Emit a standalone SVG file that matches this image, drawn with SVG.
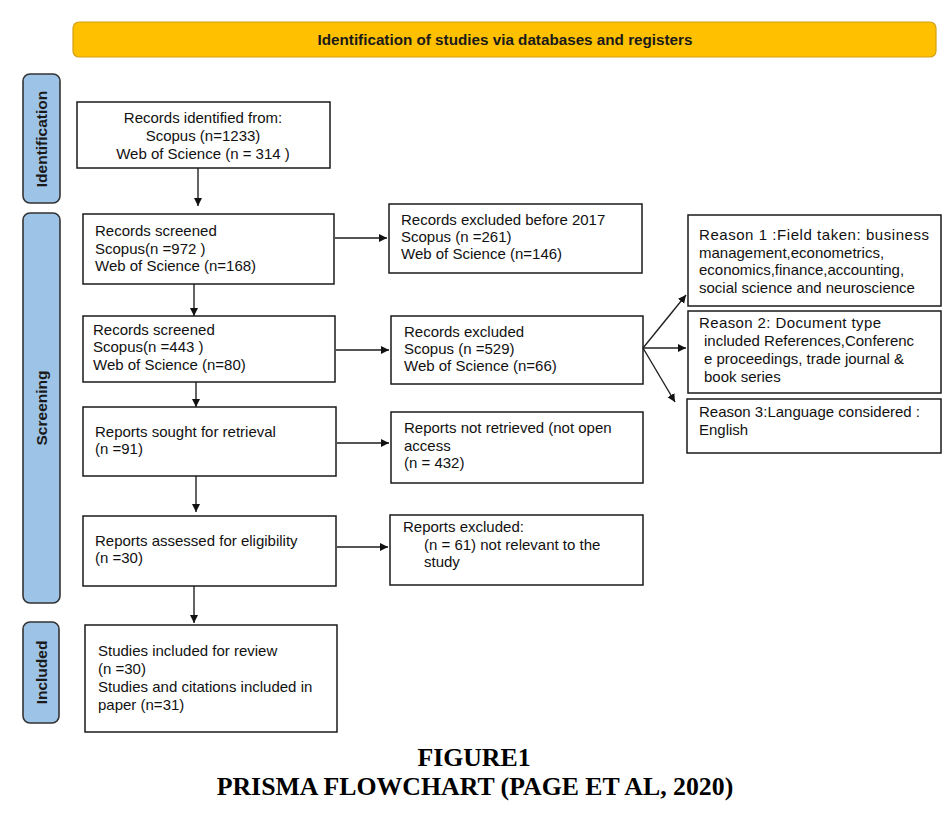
<svg xmlns="http://www.w3.org/2000/svg" width="948" height="817" viewBox="0 0 948 817">
<style>
.box{fill:#fff;stroke:#1a1a1a;stroke-width:1.5}
.side{fill:#9dc3e6;stroke:#333;stroke-width:1.6}
.t{font-family:"Liberation Sans",Arial,sans-serif;font-size:15px;fill:#111}
.r{font-family:"Liberation Sans",Arial,sans-serif;font-size:15px;fill:#111}
.st{font-family:"Liberation Sans",Arial,sans-serif;font-size:15.5px;font-weight:bold;fill:#1a1a1a}
.bn{font-family:"Liberation Sans",Arial,sans-serif;font-size:15px;font-weight:bold;fill:#1a1a1a}
.cap{font-family:"Liberation Serif","Times New Roman",serif;font-size:25.8px;font-weight:bold;fill:#000}
.c{stroke:#222;stroke-width:1.4;fill:none;marker-end:url(#ah)}
.h{stroke:#555;stroke-width:2;fill:none;marker-end:url(#ah)}
</style>
<defs>
<marker id="ah" markerWidth="10" markerHeight="10" refX="8" refY="4" orient="auto" markerUnits="userSpaceOnUse"><path d="M0,0 L8,4 L0,8 Z" fill="#111"/></marker>
</defs>
<rect width="948" height="817" fill="#fff"/>

<g id="banner">
<rect x="73" y="22" width="863" height="35" rx="6" fill="#ffc000" stroke="#d4a017" stroke-width="1.2"/>
<text x="505" y="44.5" text-anchor="middle" class="bn" textLength="375" lengthAdjust="spacingAndGlyphs">Identification of studies via databases and registers</text>
</g>

<g id="stage-identification">
<rect class="side" x="23" y="74" width="37" height="129" rx="7"/>
<text class="st" transform="translate(47,139) rotate(-90)" text-anchor="middle">Identification</text>
</g>
<g id="stage-screening">
<rect class="side" x="23" y="213" width="37" height="390" rx="7"/>
<text class="st" transform="translate(47,408) rotate(-90)" text-anchor="middle">Screening</text>
</g>
<g id="stage-included">
<rect class="side" x="23" y="622" width="36" height="101" rx="7"/>
<text class="st" transform="translate(47,672.5) rotate(-90)" text-anchor="middle">Included</text>
</g>

<g id="n-identified">
<rect class="box" x="77" y="102" width="253" height="66"/>
<text class="t" text-anchor="middle"><tspan x="203" y="123">Records identified from:</tspan><tspan x="203" y="141">Scopus (n=1233)</tspan><tspan x="203" y="159">Web of Science (n = 314 )</tspan></text>
</g>
<g id="n-screened1">
<rect class="box" x="83" y="214" width="251" height="70"/>
<text class="t"><tspan x="95" y="236">Records screened</tspan><tspan x="95" y="254">Scopus(n =972 )</tspan><tspan x="95" y="271">Web of Science (n=168)</tspan></text>
</g>
<g id="n-excl1">
<rect class="box" x="389" y="204" width="253" height="69"/>
<text class="t"><tspan x="401" y="225">Records excluded before 2017</tspan><tspan x="401" y="242">Scopus (n =261)</tspan><tspan x="401" y="259">Web of Science (n=146)</tspan></text>
</g>
<g id="n-screened2">
<rect class="box" x="83" y="316" width="252" height="66"/>
<text class="t"><tspan x="93" y="335">Records screened</tspan><tspan x="93" y="352">Scopus(n =443 )</tspan><tspan x="93" y="370">Web of Science (n=80)</tspan></text>
</g>
<g id="n-excl2">
<rect class="box" x="391" y="316" width="252" height="68"/>
<text class="t"><tspan x="404" y="337">Records excluded</tspan><tspan x="404" y="354">Scopus (n =529)</tspan><tspan x="404" y="371">Web of Science (n=66)</tspan></text>
</g>
<g id="n-reason1">
<rect class="box" x="688" y="215" width="253" height="91"/>
<text class="r"><tspan x="699" y="240" textLength="230">Reason 1  :Field taken:  business</tspan><tspan x="699" y="258">management,econometrics,</tspan><tspan x="699" y="275">economics,finance,accounting,</tspan><tspan x="699" y="293">social science and neuroscience</tspan></text>
</g>
<g id="n-reason2">
<rect class="box" x="688" y="311" width="253" height="82"/>
<text class="r"><tspan x="699" y="328" textLength="182">Reason 2: Document  type</tspan><tspan x="704" y="346">included References,Conferenc</tspan><tspan x="704" y="364">e proceedings, trade journal &amp;</tspan><tspan x="704" y="382">book series</tspan></text>
</g>
<g id="n-reason3">
<rect class="box" x="687" y="399" width="254" height="54"/>
<text class="r"><tspan x="699" y="417">Reason 3:Language considered :</tspan><tspan x="699" y="435">English</tspan></text>
</g>
<g id="n-sought">
<rect class="box" x="83" y="407" width="253" height="69"/>
<text class="t"><tspan x="95" y="437">Reports sought for retrieval</tspan><tspan x="95" y="454">(n =91)</tspan></text>
</g>
<g id="n-notretrieved">
<rect class="box" x="391" y="412" width="252" height="71"/>
<text class="t"><tspan x="404" y="433">Reports not retrieved (not open</tspan><tspan x="404" y="451">access</tspan><tspan x="404" y="468">(n = 432)</tspan></text>
</g>
<g id="n-assessed">
<rect class="box" x="83" y="516" width="253" height="70"/>
<text class="t"><tspan x="95" y="546">Reports assessed for eligibility</tspan><tspan x="95" y="563">(n =30)</tspan></text>
</g>
<g id="n-excl4">
<rect class="box" x="390" y="515" width="253" height="70"/>
<text class="t"><tspan x="403" y="532">Reports excluded:</tspan><tspan x="424" y="550">(n = 61) not relevant to the</tspan><tspan x="424" y="567">study</tspan></text>
</g>
<g id="n-included">
<rect class="box" x="85" y="625" width="252" height="107"/>
<text class="t"><tspan x="98" y="656">Studies included for review</tspan><tspan x="98" y="674">(n =30)</tspan><tspan x="98" y="692">Studies and citations included in</tspan><tspan x="98" y="710">paper (n=31)</tspan></text>
</g>

<g id="connectors">
<line class="c" x1="198" y1="168" x2="198" y2="206"/>
<line class="c" x1="194" y1="284" x2="194" y2="316"/>
<line class="c" x1="196" y1="382" x2="196" y2="407"/>
<line class="c" x1="196" y1="476" x2="196" y2="512"/>
<line class="c" x1="194" y1="586" x2="194" y2="623"/>
<line class="h" x1="335" y1="238" x2="387" y2="238"/>
<line class="h" x1="335" y1="350" x2="389" y2="350"/>
<line class="h" x1="337" y1="443" x2="389" y2="443"/>
<line class="h" x1="337" y1="547" x2="388" y2="547"/>
<line class="c" x1="643" y1="348" x2="686" y2="295"/>
<line class="c" x1="643" y1="348" x2="686" y2="348"/>
<line class="c" x1="643" y1="348" x2="675" y2="402"/>
</g>

<g id="caption">
<text class="cap" x="474" y="766" text-anchor="middle">FIGURE1</text>
<text class="cap" x="475" y="795" text-anchor="middle">PRISMA FLOWCHART (PAGE ET AL, 2020)</text>
</g>
</svg>
